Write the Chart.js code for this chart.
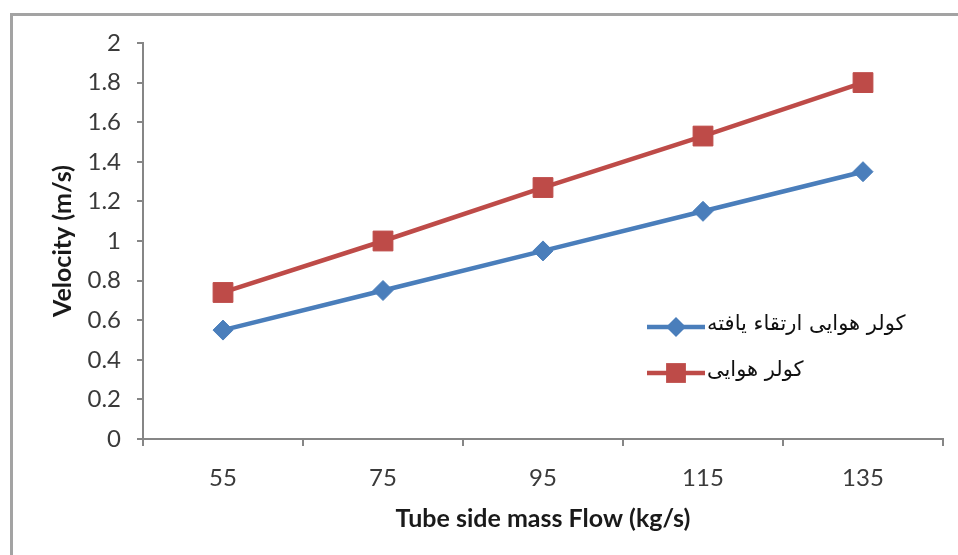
<!DOCTYPE html>
<html>
<head>
<meta charset="utf-8">
<script src="https://cdn.jsdelivr.net/npm/chart.js@4/dist/chart.umd.min.js"></script>
<style>
html,body{margin:0;padding:0;background:#fff;}
#wrap{width:958px;height:555px;position:relative;}
</style>
</head>
<body>
<div id="wrap"><canvas id="c" width="958" height="555"></canvas></div>
<script>
const categories = ['55', '75', '95', '115', '135'];
const improvedCooler = [0.55, 0.75, 0.95, 1.15, 1.35];
const airCooler = [0.74, 1.0, 1.27, 1.53, 1.8];
const seriesNames = ['كولر هوايی ارتقاء يافته', 'كولر هوايی'];
const yTickLabels = ['0', '0.2', '0.4', '0.6', '0.8', '1', '1.2', '1.4', '1.6', '1.8', '2'];
const xTitle = 'Tube side mass Flow (kg/s)';
const yTitle = 'Velocity (m/s)';

const BLUE = '#4a7ebb';
const RED = '#be4b48';
const AXIS = '#868686';
const TEXT = '#3a3a3a';

const framePlugin = {
  id: 'frame',
  beforeDraw(chart) {
    const ctx = chart.ctx;
    ctx.save();
    ctx.strokeStyle = '#a3a3a3';
    ctx.lineWidth = 3;
    ctx.beginPath();
    ctx.moveTo(11.5, 555);
    ctx.lineTo(11.5, 14.5);
    ctx.lineTo(958, 14.5);
    ctx.stroke();
    ctx.restore();
  }
};

const legendPlugin = {
  id: 'inlegend',
  afterDraw(chart) {
    const ctx = chart.ctx;
    const rows = [327, 373];
    chart.data.datasets.forEach((ds, i) => {
      const y = rows[i];
      ctx.save();
      ctx.strokeStyle = ds.borderColor;
      ctx.lineWidth = ds.borderWidth;
      ctx.beginPath();
      ctx.moveTo(647, y);
      ctx.lineTo(705, y);
      ctx.stroke();
      ctx.fillStyle = ds.pointBackgroundColor;
      ctx.beginPath();
      const cx = 676;
      if (ds.pointStyle === 'rect') {
        const s = ds.pointRadius * Math.SQRT1_2;
        ctx.rect(cx - s, y - s, 2 * s, 2 * s);
      } else {
        const r = ds.pointRadius;
        ctx.moveTo(cx - r, y);
        ctx.lineTo(cx, y - r);
        ctx.lineTo(cx + r, y);
        ctx.lineTo(cx, y + r);
        ctx.closePath();
      }
      ctx.fill();
      ctx.fillStyle = '#111';
      ctx.font = '21px "DejaVu Sans"';
      ctx.textAlign = 'left';
      ctx.textBaseline = 'middle';
      ctx.fillText(ds.label, 707, y - 2);
      ctx.restore();
    });
  }
};

new Chart(document.getElementById('c'), {
  type: 'line',
  data: {
    labels: categories,
    datasets: [
      {
        label: seriesNames[0],
        data: improvedCooler,
        borderColor: BLUE,
        backgroundColor: BLUE,
        pointBackgroundColor: BLUE,
        pointBorderColor: BLUE,
        borderWidth: 4.5,
        pointStyle: 'rectRot',
        pointRadius: 10,
        pointBorderWidth: 1,
        tension: 0
      },
      {
        label: seriesNames[1],
        data: airCooler,
        borderColor: RED,
        backgroundColor: RED,
        pointBackgroundColor: RED,
        pointBorderColor: RED,
        borderWidth: 4.5,
        pointStyle: 'rect',
        pointRadius: 14,
        pointBorderWidth: 1,
        tension: 0
      }
    ]
  },
  options: {
    responsive: false,
    animation: false,
    layout: { padding: { left: 0, top: 43, right: 15, bottom: 0 } },
    plugins: {
      legend: { display: false },
      tooltip: { enabled: false }
    },
    scales: {
      x: {
        type: 'category',
        offset: true,
        grid: { offset: true, drawOnChartArea: false, drawTicks: true, tickLength: 7, color: AXIS, lineWidth: 2 },
        border: { color: AXIS, width: 2 },
        ticks: { color: TEXT, font: { family: 'Lato', size: 24 }, padding: 18, maxRotation: 0 },
        title: { display: true, text: xTitle, color: '#1a1a1a', font: { family: 'Lato', size: 25, weight: 'bold' }, padding: { top: 0, bottom: 21 } },
        afterFit(scale) { scale.height = 116; }
      },
      y: {
        min: 0,
        max: 2,
        ticks: {
          stepSize: 0.2,
          color: TEXT,
          font: { family: 'Lato', size: 24 },
          padding: 16,
          callback: (value, index) => yTickLabels[index]
        },
        grid: { drawOnChartArea: false, drawTicks: true, tickLength: 6, color: AXIS, lineWidth: 2 },
        border: { color: AXIS, width: 2 },
        title: { display: true, text: yTitle, color: '#1a1a1a', font: { family: 'Lato', size: 25, weight: 'bold' }, padding: { top: 48, bottom: 0 } },
        afterFit(scale) { scale.width = 143; }
      }
    }
  },
  plugins: [framePlugin, legendPlugin]
});
</script>
</body>
</html>
